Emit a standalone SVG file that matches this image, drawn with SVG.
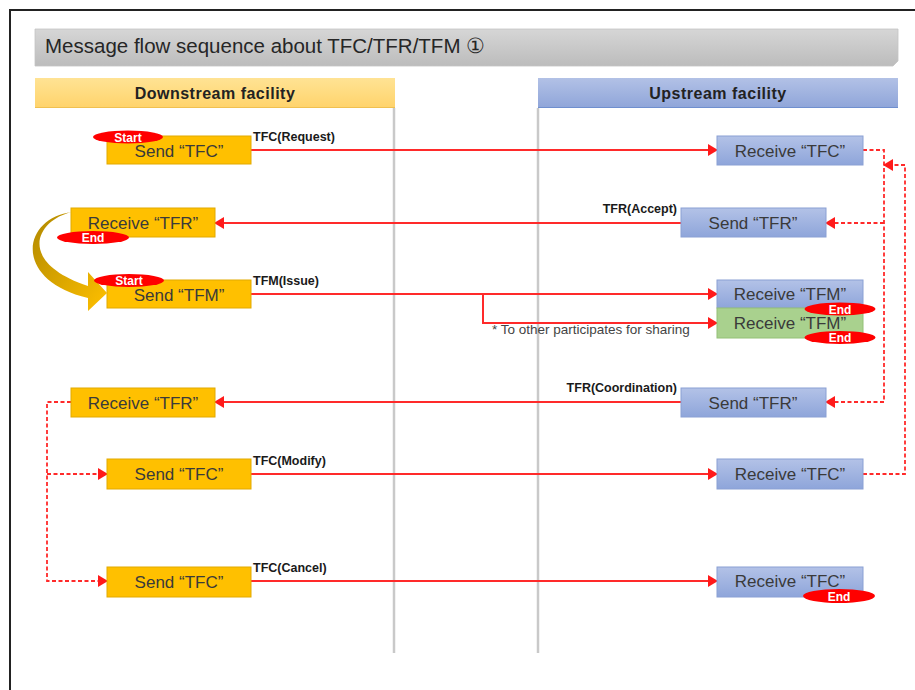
<svg xmlns="http://www.w3.org/2000/svg" width="915" height="690" viewBox="0 0 915 690">
<style>
text{font-family:"Liberation Sans",Arial,sans-serif;}
.node{font-size:17px;fill:#3a3a3a;text-anchor:middle;}
.lbl{font-size:12.5px;font-weight:bold;fill:#1a1a1a;}
.hdr{font-size:16px;font-weight:bold;fill:#222;text-anchor:middle;letter-spacing:0.5px;}
.tag{font-size:12px;font-weight:bold;fill:#fff;text-anchor:middle;}
.org{fill:#ffc000;stroke:#e2a900;stroke-width:1;}
.blu{fill:url(#gBlue);stroke:#8aa0d4;stroke-width:1;}
.grn{fill:#a9d18e;stroke:#93c077;stroke-width:1;}
.msg{fill:none;stroke:#ff2a2a;stroke-width:2;}
.dsh{fill:none;stroke:#ff2a2a;stroke-width:1.8;stroke-dasharray:4 2.5;}
.life{stroke:#c9c9c9;stroke-width:2.5;}
.oval{fill:#ff0000;}
</style>
<defs>
<linearGradient id="gBlue" x1="0" y1="0" x2="0" y2="1"><stop offset="0" stop-color="#b3c2e7"/><stop offset="1" stop-color="#8ea5da"/></linearGradient>
<linearGradient id="gTitle" x1="0" y1="0" x2="0" y2="1"><stop offset="0" stop-color="#d6d6d6"/><stop offset="1" stop-color="#bcbcbc"/></linearGradient>
<linearGradient id="gDown" x1="0" y1="0" x2="0" y2="1"><stop offset="0" stop-color="#ffe394"/><stop offset="1" stop-color="#ffd36b"/></linearGradient>
<linearGradient id="gUp" x1="0" y1="0" x2="0" y2="1"><stop offset="0" stop-color="#b2c1e6"/><stop offset="1" stop-color="#8fa5d9"/></linearGradient>
<linearGradient id="gCurve" x1="0" y1="0" x2="1" y2="1"><stop offset="0" stop-color="#b08800"/><stop offset="0.6" stop-color="#e0aa00"/><stop offset="1" stop-color="#ffc000"/></linearGradient>
<marker id="ah" markerUnits="userSpaceOnUse" markerWidth="10" markerHeight="12" refX="9" refY="6" orient="auto"><path d="M0,0 L10,6 L0,12 Z" fill="#ff1a1a"/></marker>
</defs>

<path d="M10,690 V10 H915" fill="none" stroke="#222" stroke-width="2"/>

<g id="title">
<path d="M35,29 H898 V61 L893,66 H35 Z" fill="url(#gTitle)" stroke="#c4c4c4" stroke-width="0.8"/>
<text x="45" y="53" style="font-size:20.5px;fill:#262626;">Message flow sequence about TFC/TFR/TFM ①</text>
</g>

<g id="header-downstream">
<rect x="35" y="78" width="360" height="30" fill="url(#gDown)"/>
<line x1="35" y1="107.5" x2="395" y2="107.5" stroke="#f0c050" stroke-width="1"/>
<text class="hdr" x="215" y="99">Downstream facility</text>
</g>
<g id="header-upstream">
<rect x="538" y="78" width="360" height="30" fill="url(#gUp)"/>
<line x1="538" y1="107.5" x2="898" y2="107.5" stroke="#6f8fcf" stroke-width="1.2"/>
<text class="hdr" x="718" y="99">Upstream facility</text>
</g>

<g id="lifelines">
<line class="life" x1="394" y1="108" x2="394" y2="653"/>
<line class="life" x1="538" y1="108" x2="538" y2="653"/>
</g>

<g id="connectors">
<line class="msg" x1="251" y1="150" x2="717" y2="150" marker-end="url(#ah)"/>
<line class="msg" x1="681" y1="223" x2="215" y2="223" marker-end="url(#ah)"/>
<line class="msg" x1="251" y1="294" x2="717" y2="294" marker-end="url(#ah)"/>
<path class="msg" d="M483,294 V323 H717" marker-end="url(#ah)"/>
<line class="msg" x1="681" y1="402" x2="215" y2="402" marker-end="url(#ah)"/>
<line class="msg" x1="251" y1="474" x2="717" y2="474" marker-end="url(#ah)"/>
<line class="msg" x1="251" y1="581" x2="717" y2="581" marker-end="url(#ah)"/>
<path class="dsh" d="M71,402 H47 V581 H107" marker-end="url(#ah)"/>
<path class="dsh" d="M47,474 H107" marker-end="url(#ah)"/>
<path class="dsh" d="M863,150 H884 V402 H826" marker-end="url(#ah)"/>
<path class="dsh" d="M884,223 H826" marker-end="url(#ah)"/>
<path class="dsh" d="M863,474 H905 V165 H884" marker-end="url(#ah)"/>
<text class="lbl" x="253" y="141">TFC(Request)</text>
<text class="lbl" x="677" y="213" text-anchor="end">TFR(Accept)</text>
<text class="lbl" x="253" y="285">TFM(Issue)</text>
<text x="492" y="334" style="font-size:13.5px;fill:#444;">* To other participates for sharing</text>
<text class="lbl" x="677" y="392" text-anchor="end">TFR(Coordination)</text>
<text class="lbl" x="253" y="465">TFC(Modify)</text>
<text class="lbl" x="253" y="572">TFC(Cancel)</text>
</g>

<g id="curve-arrow">
<path d="M72,212 C36,220 16,262 88,286 L88,272 L107,293 L88,311 L88,298 C12,280 22,218 72,212 Z" fill="url(#gCurve)"/>
</g>

<g id="d-send-tfc-request">
<rect class="org" x="107" y="136" width="144" height="28"/>
<text class="node" x="179" y="157">Send “TFC”</text>
<ellipse class="oval" cx="128" cy="137" rx="35" ry="6.5"/>
<text class="tag" x="128" y="141.5">Start</text>
</g>
<g id="d-receive-tfr-accept">
<rect class="org" x="71" y="208" width="144" height="29"/>
<text class="node" x="143" y="229">Receive “TFR”</text>
<ellipse class="oval" cx="93" cy="237.5" rx="36" ry="6.5"/>
<text class="tag" x="93" y="242">End</text>
</g>
<g id="d-send-tfm">
<rect class="org" x="107" y="280" width="144" height="28"/>
<text class="node" x="179" y="301">Send “TFM”</text>
<ellipse class="oval" cx="129" cy="280.5" rx="35" ry="6.5"/>
<text class="tag" x="129" y="285">Start</text>
</g>
<g id="d-receive-tfr-coord">
<rect class="org" x="71" y="388" width="144" height="29"/>
<text class="node" x="143" y="409">Receive “TFR”</text>
</g>
<g id="d-send-tfc-modify">
<rect class="org" x="107" y="459" width="144" height="30"/>
<text class="node" x="179" y="480">Send “TFC”</text>
</g>
<g id="d-send-tfc-cancel">
<rect class="org" x="107" y="567" width="144" height="30"/>
<text class="node" x="179" y="588">Send “TFC”</text>
</g>

<g id="u-receive-tfc-request">
<rect class="blu" x="717" y="136" width="146" height="29"/>
<text class="node" x="790" y="157">Receive “TFC”</text>
</g>
<g id="u-send-tfr-accept">
<rect class="blu" x="681" y="208" width="145" height="29"/>
<text class="node" x="753" y="229">Send “TFR”</text>
</g>
<g id="u-receive-tfm">
<rect class="blu" x="717" y="280" width="146" height="28"/>
<text class="node" x="790" y="300">Receive “TFM”</text>
</g>
<g id="u-receive-tfm-share">
<rect class="grn" x="717" y="308" width="146" height="30"/>
<text class="node" x="790" y="329">Receive “TFM”</text>
<ellipse class="oval" cx="840" cy="309" rx="35.5" ry="6.5"/>
<text class="tag" x="840" y="313.5">End</text>
<ellipse class="oval" cx="840" cy="337.5" rx="35.5" ry="6.5"/>
<text class="tag" x="840" y="342">End</text>
</g>
<g id="u-send-tfr-coord">
<rect class="blu" x="681" y="388" width="145" height="29"/>
<text class="node" x="753" y="409">Send “TFR”</text>
</g>
<g id="u-receive-tfc-modify">
<rect class="blu" x="717" y="459" width="146" height="30"/>
<text class="node" x="790" y="480">Receive “TFC”</text>
</g>
<g id="u-receive-tfc-cancel">
<rect class="blu" x="717" y="567" width="146" height="30"/>
<text class="node" x="790" y="587">Receive “TFC”</text>
<ellipse class="oval" cx="839" cy="596" rx="36" ry="7"/>
<text class="tag" x="839" y="600.5">End</text>
</g>
</svg>
